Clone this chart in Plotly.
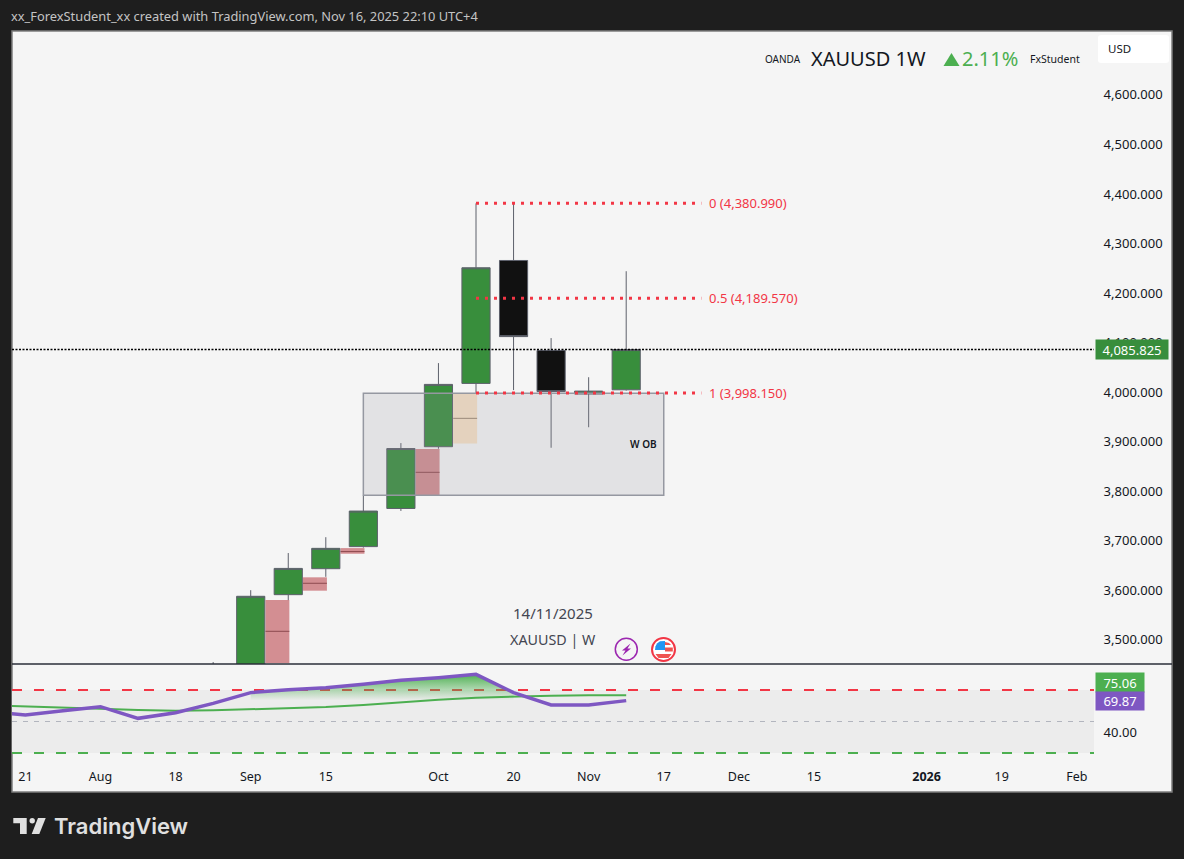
import plotly.graph_objects as go

# ---- data -----------------------------------------------------------------
CANDLE_DATES = ["2025-08-25", "2025-09-01", "2025-09-08", "2025-09-15", "2025-09-22", "2025-09-29",
                "2025-10-06", "2025-10-13", "2025-10-20", "2025-10-27", "2025-11-03", "2025-11-10"]
OPEN  = [3370, 3447, 3591, 3643.4, 3688, 3765, 3889.7, 4017.5, 4265.7, 4084, 3996, 4004.6]
HIGH  = [3455, 3600, 3675, 3707, 3791, 3897, 4058.5, 4380.99, 4380, 4109, 4030, 4244]
LOW   = [3350, 3430, 3580, 3627, 3686, 3760, 3885.6, 3998.15, 4004, 3887.6, 3929, 4003]
CLOSE = [3447, 3587.7, 3644, 3684.5, 3759.8, 3886, 4015.5, 4251, 4112, 4001, 4002, 4085.825]

RSI_DATES = ["2025-07-14", "2025-07-21", "2025-07-28", "2025-08-04", "2025-08-11", "2025-08-18",
             "2025-08-25", "2025-09-01", "2025-09-08", "2025-09-15", "2025-09-22", "2025-09-29",
             "2025-10-06", "2025-10-13", "2025-10-20", "2025-10-27", "2025-11-03", "2025-11-10"]
RSI = [59.8, 56.2, 60.3, 64.1, 53.0, 58.4, 67.3, 77.5, 80.3, 82.2, 85.4, 89.2, 91.7, 94.9, 77.5, 65.7, 65.7, 69.87]
RSI_MA = [65.4, 64.5, 63.2, 62.2, 61.0, 60.3, 60.6, 61.6, 63.0, 63.8, 65.7, 68.3, 70.8, 72.7, 74.0, 74.6, 74.9, 75.06]

FIB_LEVELS = [4380.99, 4189.57, 3998.15]
FIB_LABELS = ["0 (4,380.990)", "0.5 (4,189.570)", "1 (3,998.150)"]

ZONE_START  = ["2025-09-03 18:00", "2025-09-10 18:00", "2025-09-17 18:00", "2025-10-01 18:00", "2025-10-08 18:00"]
ZONE_END    = ["2025-09-08 05:00", "2025-09-15 05:00", "2025-09-22 05:00", "2025-10-06 05:00", "2025-10-13 05:00"]
ZONE_TOP    = [3580, 3626, 3685, 3885, 3996]
ZONE_MID    = [3517, 3614, 3678, 3838, 3947]
ZONE_BOTTOM = [3453, 3599, 3673.6, 3791.5, 3896]
ZONE_FILL   = ["#d38e92", "#d38e92", "#d38e92", "#d38e92", "#f8e2c6"]
ZONE_LINE   = ["#8d4a4f", "#8d4a4f", "#8d4a4f", "#8d4a4f", "#9a8670"]

OB_BOX = dict(start="2025-09-22", end="2025-11-17", top=3997.5, bottom=3791.5)
LAST_PRICE = 4085.825

PRICE_TICKS = [3500, 3600, 3700, 3800, 3900, 4000, 4100, 4200, 4300, 4400, 4500, 4600]
TIME_TICKS = ["2025-07-21", "2025-08-04", "2025-08-18", "2025-09-01", "2025-09-15", "2025-10-06", "2025-10-20",
              "2025-11-03", "2025-11-17", "2025-12-01", "2025-12-15", "2026-01-05", "2026-01-19", "2026-02-02"]
TIME_LABELS = ["21", "Aug", "18", "Sep", "15", "Oct", "20", "Nov", "17", "Dec", "15", "<b>2026</b>", "19", "Feb"]

# ---- layout helpers ---------------------------------------------------------
FONT = "Noto Sans"
L, R, T, B = 12, 1172, 31, 792
def px(x): return (x - L) / (R - L)
def py(y): return (B - y) / (B - T)
def pth(points, close=True):
    return "M " + " L ".join(f"{px(a):.5f},{py(b):.5f}" for a, b in points) + (" Z" if close else "")
def poly(points, color, layer="above"):
    return dict(type="path", xref="paper", yref="paper", layer=layer, fillcolor=color, line=dict(width=0), path=pth(points))

X_RANGE = ["2025-07-18 12:00", "2026-02-05 05:00"]
PAPER_BG = "#1e1e1e"
PANEL = "#f5f5f5"
RED = "#f23645"
GREEN = "#4caf50"
PURPLE = "#7e57c2"
TXT = "#131722"

fig = go.Figure()

fig.add_trace(go.Candlestick(
    x=CANDLE_DATES, open=OPEN, high=HIGH, low=LOW, close=CLOSE, xaxis="x", yaxis="y",
    increasing=dict(fillcolor="#388e3c", line=dict(color="#5d606b", width=1)),
    decreasing=dict(fillcolor="#111111", line=dict(color="#5d606b", width=1)),
    whiskerwidth=0, showlegend=False, hoverinfo="skip"))

# RSI gradient fill between level 70 and the RSI line
fill_idx = [i for i, d in enumerate(RSI_DATES) if "2025-09-01" <= d <= "2025-10-20"]
fill_x = [RSI_DATES[i] for i in fill_idx]
fig.add_trace(go.Scatter(x=fill_x, y=[70] * len(fill_x), xaxis="x2", yaxis="y2", mode="lines",
                         line=dict(width=0), showlegend=False, hoverinfo="skip"))
fig.add_trace(go.Scatter(x=fill_x, y=[RSI[i] for i in fill_idx], xaxis="x2", yaxis="y2", mode="lines",
                         line=dict(width=0), fill="tonexty", showlegend=False, hoverinfo="skip",
                         fillgradient=dict(type="vertical", start=70, stop=93,
                                           colorscale=[[0, "rgba(76,175,80,0)"], [1, "rgba(76,175,80,0.9)"]])))
fig.add_trace(go.Scatter(x=RSI_DATES, y=RSI_MA, xaxis="x2", yaxis="y2", mode="lines",
                         line=dict(color=GREEN, width=2), showlegend=False, hoverinfo="skip"))
fig.add_trace(go.Scatter(x=RSI_DATES, y=RSI, xaxis="x2", yaxis="y2", mode="lines",
                         line=dict(color=PURPLE, width=3.5), showlegend=False, hoverinfo="skip"))

shapes = []
# chart panel + right scale
shapes.append(dict(type="rect", xref="paper", yref="paper", x0=0, x1=1, y0=0, y1=1, layer="below",
                   fillcolor=PANEL, line=dict(color="#7d7d7d", width=1.5)))
# candle projection zones
for s, e, t, m, b, f, c in zip(ZONE_START, ZONE_END, ZONE_TOP, ZONE_MID, ZONE_BOTTOM, ZONE_FILL, ZONE_LINE):
    shapes.append(dict(type="rect", xref="x", yref="y", x0=s, x1=e, y0=b, y1=t, layer="below",
                       fillcolor=f, line=dict(width=0)))
    shapes.append(dict(type="line", xref="x", yref="y", x0=s, x1=e, y0=m, y1=m, layer="below",
                       line=dict(color=c, width=1)))
# RSI band and levels
shapes.append(dict(type="rect", xref="x2", yref="y2", x0=X_RANGE[0], x1=X_RANGE[1], y0=20, y1=80, layer="below",
                   fillcolor="#ececec", line=dict(width=0)))
for lvl, col, w, dash in [(80, RED, 2, "10px,12px"), (50, "#b2b5be", 1, "5px,6px"), (20, GREEN, 2, "10px,12px")]:
    shapes.append(dict(type="line", xref="x2", yref="y2", x0=X_RANGE[0], x1=X_RANGE[1], y0=lvl, y1=lvl,
                       layer="below", line=dict(color=col, width=w, dash=dash)))
# W OB box
shapes.append(dict(type="rect", xref="x", yref="y", x0=OB_BOX["start"], x1=OB_BOX["end"],
                   y0=OB_BOX["bottom"], y1=OB_BOX["top"], layer="above",
                   fillcolor="rgba(149,152,161,0.2)", line=dict(color="#9598a1", width=1.5)))
# fib lines
for lvl in FIB_LEVELS:
    shapes.append(dict(type="line", xref="x", yref="y", x0="2025-10-13", x1="2025-11-24", y0=lvl, y1=lvl,
                       layer="above", line=dict(color=RED, width=3, dash="3px,6px")))
# last price line
shapes.append(dict(type="line", xref="x", yref="y", x0=X_RANGE[0], x1=X_RANGE[1], y0=LAST_PRICE, y1=LAST_PRICE,
                   layer="above", line=dict(color="#000000", width=1.5, dash="2px,1.5px")))
# pane separator
shapes.append(dict(type="line", xref="paper", yref="paper", x0=0, x1=1, y0=py(664), y1=py(664), layer="above",
                   line=dict(color="#2a2e39", width=1.5)))
# USD button
r = 3
shapes.append(dict(type="path", xref="paper", yref="paper", layer="above", fillcolor="#ffffff", line=dict(width=0),
                   path=f"M {px(1098+r)},{py(35)} L {px(1169-r)},{py(35)} Q {px(1169)},{py(35)} {px(1169)},{py(35+r)} "
                        f"L {px(1169)},{py(63-r)} Q {px(1169)},{py(63)} {px(1169-r)},{py(63)} L {px(1098+r)},{py(63)} "
                        f"Q {px(1098)},{py(63)} {px(1098)},{py(63-r)} L {px(1098)},{py(35+r)} Q {px(1098)},{py(35)} {px(1098+r)},{py(35)} Z"))
# header triangle
shapes.append(poly([(951.5, 53), (959.5, 66), (943.5, 66)], GREEN))
# bolt icon
shapes.append(dict(type="circle", xref="paper", yref="paper", x0=px(615.3), x1=px(637.3), y0=py(660.3), y1=py(638.3),
                   layer="above", fillcolor=PANEL, line=dict(color="#9c27b0", width=1.5)))
shapes.append(poly([(630.5, 643.5), (622, 650.5), (625.5, 650.5), (622.5, 655.5), (631, 648.5), (627.5, 648.5)], "#9c27b0"))
# flag icon
shapes.append(dict(type="circle", xref="paper", yref="paper", x0=px(652), x1=px(675), y0=py(661), y1=py(638),
                   layer="above", fillcolor="#ffffff", line=dict(color=RED, width=2)))
shapes.append(poly([(665, 642), (669, 643), (671, 645), (665, 645)], "#ef5350"))
shapes.append(poly([(665, 647.5), (672.8, 647.5), (672.8, 651.5), (665, 651.5)], "#ef5350"))
shapes.append(poly([(655.5, 654), (671.5, 654), (668.5, 658), (658.5, 658)], "#ef5350"))
shapes.append(poly([(657, 643.5), (660, 641.2), (665, 641), (665, 650), (655, 650), (655.4, 646.5)], "#2196f3"))
# TradingView logo
for p in ([(13.3, 818), (26.7, 818), (26.7, 834), (20, 834), (20, 823.3), (13.3, 823.3)],
          [(38, 818), (45.7, 818), (39.3, 834), (31.7, 834)]):
    shapes.append(poly(p, "#e0e0e0"))
shapes.append(dict(type="circle", xref="paper", yref="paper", x0=px(29.5), x1=px(34.9), y0=py(823.5), y1=py(818.1),
                   layer="above", fillcolor="#e0e0e0", line=dict(width=0)))

def note(text, x, y, size, color=TXT, anchor="left", **kw):
    return dict(text=text, xref="paper", yref="paper", x=px(x), y=py(y), xanchor=anchor, yanchor="middle",
                showarrow=False, font=dict(family=kw.pop("family", FONT), size=size, color=color, **kw))

anns = [
    note("xx_ForexStudent_xx created with TradingView.com, Nov 16, 2025 22:10 UTC+4", 9, 16, 12.85, "#c4c4c4"),
    note("OANDA", 763, 59.5, 10),
    note("XAUUSD 1W", 809, 58, 20),
    note("2.11%", 960, 58, 20, GREEN),
    note("FxStudent", 1028, 59.5, 10.5),
    note("USD", 1106, 48.5, 11.5),
    note("W OB", 643, 443.5, 10, anchor="center", weight=600),
    note("14/11/2025", 553, 613, 15, "#434651", anchor="center"),
    note("XAUUSD | W", 552.5, 639, 14.3, "#434651", anchor="center"),
    note("TradingView", 52, 826.5, 22, "#e0e0e0", family="Inter", weight=600),
]
for lvl, lab in zip(FIB_LEVELS, FIB_LABELS):
    anns.append(dict(text=lab, xref="paper", yref="y", x=px(707), y=lvl, xanchor="left", yanchor="middle",
                     showarrow=False, font=dict(family=FONT, size=13, color=RED)))
anns.append(dict(text="4,085.825", xref="paper", yref="y", x=px(1095), y=LAST_PRICE, xanchor="left", yanchor="middle",
                 showarrow=False, width=72, height=19, bgcolor="#388e3c", borderpad=0, align="center",
                 font=dict(family=FONT, size=13, color="#ffffff")))
anns.append(dict(text=f"{RSI_MA[-1]:.2f}", xref="paper", yref="paper", x=px(1095), y=py(682.2), xanchor="left",
                 yanchor="middle", showarrow=False, width=48, height=19, bgcolor=GREEN, borderpad=0, align="center",
                 font=dict(family=FONT, size=13, color="#ffffff")))
anns.append(dict(text=f"{RSI[-1]:.2f}", xref="paper", yref="paper", x=px(1095), y=py(700.7), xanchor="left",
                 yanchor="middle", showarrow=False, width=48, height=18, bgcolor=PURPLE, borderpad=0, align="center",
                 font=dict(family=FONT, size=13, color="#ffffff")))

x_dom = [0, px(1094)]
fig.update_layout(
    width=1184, height=859, margin=dict(l=L, r=1184 - R, t=T, b=859 - B, pad=0),
    paper_bgcolor=PAPER_BG, plot_bgcolor=PANEL, showlegend=False, hovermode=False,
    font=dict(family=FONT, size=12, color=TXT),
    xaxis=dict(type="date", domain=x_dom, range=X_RANGE, anchor="y", showgrid=False, zeroline=False,
               showticklabels=False, ticks="", rangeslider=dict(visible=False), showline=False),
    yaxis=dict(domain=[py(664), 1], range=[3451, 4729], side="right", anchor="x", showgrid=False, zeroline=False,
               tickvals=PRICE_TICKS, tickformat=",.3f", ticks="outside", ticklen=6, tickcolor="rgba(0,0,0,0)",
               tickfont=dict(family=FONT, size=13, color=TXT), showline=False),
    xaxis2=dict(type="date", domain=x_dom, range=X_RANGE, anchor="y2", matches="x", showgrid=False, zeroline=False,
                tickvals=TIME_TICKS, ticktext=TIME_LABELS, tickangle=0, ticks="", showline=False,
                tickfont=dict(family=FONT, size=12.5, color=TXT)),
    yaxis2=dict(domain=[py(767), py(665)], range=[6.67, 103.8], side="right", anchor="x2", showgrid=False,
                zeroline=False, tickvals=[40], tickformat=".2f", ticks="outside", ticklen=6,
                tickcolor="rgba(0,0,0,0)", tickfont=dict(family=FONT, size=13, color=TXT), showline=False),
    shapes=shapes, annotations=anns, boxgap=0.25, boxgroupgap=0,
)

fig.write_html("out.html", config=dict(displayModeBar=False),
               post_script="document.body.style.margin='0';document.body.style.overflow='hidden';"
                           "document.documentElement.style.background='#1e1e1e';")
